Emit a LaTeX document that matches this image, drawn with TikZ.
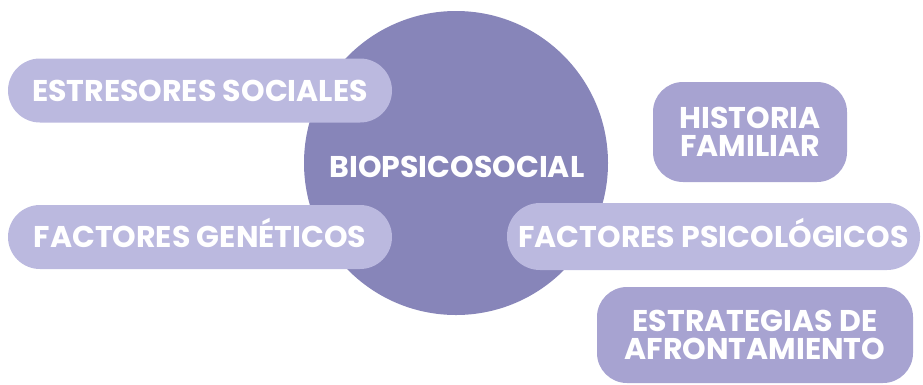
\documentclass[tikz,border=0pt]{standalone}
\usepackage{fontspec}
\setmainfont{Poppins}
\definecolor{circ}{HTML}{8785B9}
\definecolor{light}{HTML}{BBB9DF}
\definecolor{mid}{HTML}{A7A3D1}
\tikzset{
  lbl/.style={text=white, font=\fontsize{30}{28.5}\selectfont\bfseries, align=center, inner sep=0pt},
  one/.style={text height=21pt, text depth=0pt},
  pill/.style={lbl, fill=light, rounded corners=#1},
}
\begin{document}
\begin{tikzpicture}[x=1pt,y=-1pt]
\useasboundingbox (0,0) rectangle (923,384);
\node[circle, fill=circ, minimum size=304pt, inner sep=0pt] (bio) at (456,163) {};
\node[lbl, one] (biot) at (457,167) {BIOPSICOSOCIAL};
\node[pill=32pt, one, minimum width=384pt, minimum height=64pt] (estr) at (200,90.5) {ESTRESORES SOCIALES};
\node[pill=32pt, one, minimum width=384pt, minimum height=64pt] (gen) at (200,237) {FACTORES GENÉTICOS};
\node[pill=33pt, one, minimum width=413pt, minimum height=67pt] (psi) at (713.5,236.5) {FACTORES PSICOLÓGICOS};
\node[pill=30pt, fill=mid, minimum width=194pt, minimum height=100pt] (hist) at (750,132) {HISTORIA\\FAMILIAR};
\node[pill=30pt, fill=mid, minimum width=316pt, minimum height=96pt] (afr) at (755,335) {ESTRATEGIAS DE\\AFRONTAMIENTO};
\end{tikzpicture}
\end{document}
